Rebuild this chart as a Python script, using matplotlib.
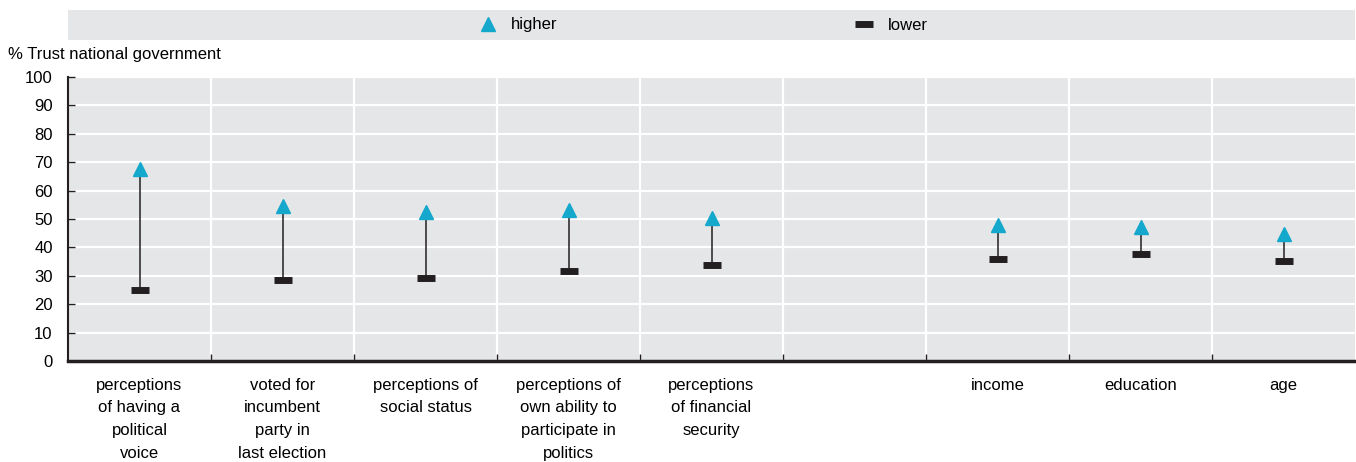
import numpy as np
import matplotlib
matplotlib.use("Agg")
import matplotlib.pyplot as plt
from matplotlib.lines import Line2D

plt.rcParams['font.family'] = ['Liberation Sans Narrow', 'Liberation Sans', 'DejaVu Sans']

# data
categories = ["perceptions\nof having a\npolitical\nvoice",
              "voted for\nincumbent\nparty in\nlast election",
              "perceptions of\nsocial status",
              "perceptions of\nown ability to\nparticipate in\npolitics",
              "perceptions\nof financial\nsecurity",
              "",
              "income",
              "education",
              "age"]
higher = [67.5, 54.5, 52.3, 53.2, 50.2, np.nan, 47.9, 47.2, 44.7]
lower = [25.0, 28.5, 29.3, 31.6, 33.7, np.nan, 35.8, 37.6, 35.3]

BLUE = '#14a8cc'
DARK = '#231f20'
BG = '#e5e6e8'

fig = plt.figure(figsize=(13.56, 4.62), dpi=100)
ax = fig.add_axes([68 / 1356, 1 - 361 / 462, (1355 - 68) / 1356, (361 - 77) / 462])
ax.set_facecolor(BG)

x = np.arange(len(categories))
for xi, lo, hi in zip(x, lower, higher):
    if np.isnan(lo):
        continue
    ax.plot([xi, xi], [lo, hi], color=DARK, lw=1.1, zorder=3)
ax.plot(x, lower, ls='none', marker='_', ms=13, mew=5, color=DARK, zorder=4)
ax.plot(x, higher, ls='none', marker='^', ms=10, color=BLUE, mec=BLUE, zorder=5)

ax.set_xlim(-0.5, len(categories) - 0.5)
ax.set_ylim(0, 100)
ax.set_yticks(range(0, 101, 10))
ax.set_xticks(x)
ax.set_xticklabels(categories, fontsize=12, linespacing=1.65)
ax.set_xticks(np.arange(0.5, len(categories) - 0.5, 1), minor=True)

ax.tick_params(axis='y', direction='in', length=5, width=1, labelsize=12, pad=11, color=DARK)
ax.tick_params(axis='x', which='major', length=0, pad=12)
ax.tick_params(axis='x', which='minor', direction='in', length=5, width=1, color=DARK)

ax.grid(axis='y', color='white', lw=1.6)
ax.grid(axis='x', which='minor', color='white', lw=1.6)
ax.set_axisbelow(True)
for s in ['top', 'right']:
    ax.spines[s].set_visible(False)
ax.spines['left'].set_color(DARK)
ax.spines['left'].set_linewidth(1.5)
ax.spines['bottom'].set_color(DARK)
ax.spines['bottom'].set_linewidth(2.5)

fig.text(8 / 1356, 1 - 55 / 462, "% Trust national government", fontsize=12, va='center', ha='left')

# legend band
lax = fig.add_axes([68 / 1356, 1 - 40 / 462, (1355 - 68) / 1356, 30 / 462])
lax.set_facecolor(BG)
lax.set_xticks([])
lax.set_yticks([])
for s in lax.spines.values():
    s.set_visible(False)
handles = [Line2D([], [], ls='none', marker='^', ms=10, color=BLUE, label='higher'),
           Line2D([], [], ls='none', marker='_', ms=13, mew=5, color=DARK, label='lower')]
lax.legend(handles=handles, loc='center', ncol=2, frameon=False, fontsize=12,
           columnspacing=17.8, handlelength=1.2, handletextpad=0.8,
           bbox_to_anchor=(0.493, 0.5))

fig.savefig('out.png', dpi=100)
